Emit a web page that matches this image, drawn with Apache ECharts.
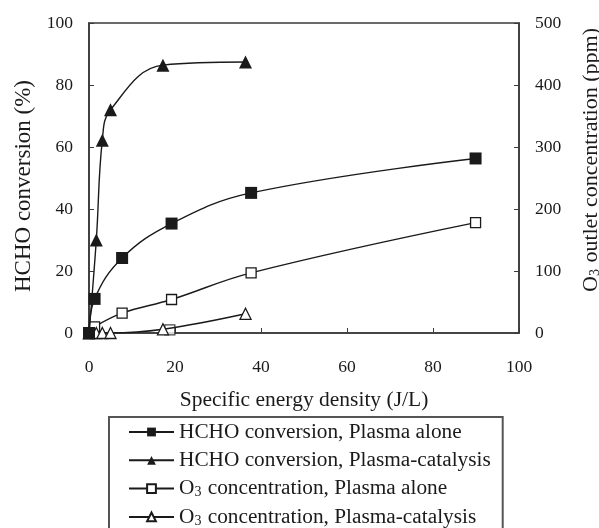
<!DOCTYPE html>
<html>
<head>
<meta charset="utf-8">
<script src="https://cdn.jsdelivr.net/npm/echarts@6/dist/echarts.min.js"></script>
<style>
  html, body { margin: 0; padding: 0; background: #fff; }
  #chart { width: 599px; height: 528px; }
</style>
</head>
<body>
<div id="chart"></div>
<script>
// Specific energy density (J/L) vs HCHO conversion (%) and O3 outlet (ppm)
const hchoPlasmaAlone = [[0, 0], [1.3, 11], [7.7, 24.2], [19.2, 35.3], [37.7, 45.2], [89.9, 56.3]];
const hchoPlasmaCatalysis = [[0, 0], [1.7, 30], [3.1, 62.2], [5.0, 72], [17.2, 86.4], [36.4, 87.4]];
const o3PlasmaAlone = [[0, 0], [1.3, 10], [7.7, 32], [19.2, 54], [37.7, 97], [89.9, 178]];
const o3PlasmaCatalysis = [[0, 0], [1.7, 0], [3.1, 0], [5.0, 0], [17.2, 6], [36.4, 31]];
const o3Extra = [[18.8, 5]];

const seriesNames = [
  'HCHO conversion, Plasma alone',
  'HCHO conversion, Plasma-catalysis',
  'O3 concentration, Plasma alone',
  'O3 concentration, Plasma-catalysis'
];
const xTicks = [0, 20, 40, 60, 80, 100];

const serif = 'Liberation Serif';
const ink = '#1a1a1a';
const frame = '#3a3a3a';

function richFor(size, lh) {
  return {
    a: { fontFamily: serif, fontSize: size, color: ink, lineHeight: lh },
    s: { fontFamily: serif, fontSize: Math.round(size * 0.65), color: ink, lineHeight: lh, padding: [Math.round(size * 0.38), 1, 0, 0] }
  };
}
const withSub = s => s.replace(/^O3(.*)$/, '{a|O}{s|3}{a|$1}').replace(/^([^{].*)$/, '{a|$1}');

const chart = echarts.init(document.getElementById('chart'), null, { renderer: 'canvas' });

function lineSeries(name, data, yIdx, symbol, filled, size) {
  return {
    name: name,
    type: 'line',
    yAxisIndex: yIdx,
    data: data,
    smooth: 0.4,
    symbol: symbol,
    symbolSize: size,
    showAllSymbol: true,
    lineStyle: { color: ink, width: 1.4 },
    itemStyle: { color: filled ? ink : '#fff', borderColor: ink, borderWidth: filled ? 0 : 1.3 },
    emphasis: { disabled: true },
    z: filled ? 3 : 2
  };
}

chart.setOption({
  animation: false,
  backgroundColor: '#fff',
  grid: {
    left: 89, right: 80, top: 23, bottom: 195,
    outerBoundsMode: 'none',
    show: true, borderColor: frame, borderWidth: 1.6
  },
  xAxis: {
    type: 'value', min: 0, max: 100, interval: 20,
    name: 'Specific energy density (J/L)',
    nameLocation: 'middle', nameGap: 56,
    nameTextStyle: { fontFamily: serif, fontSize: 21.5, color: ink },
    axisLine: { lineStyle: { color: frame, width: 1.6 } },
    axisTick: { inside: true, length: 5, lineStyle: { color: frame } },
    axisLabel: {
      fontFamily: serif, fontSize: 17.5, color: ink, margin: 25,
      formatter: v => xTicks.includes(v) ? String(v) : ''
    },
    splitLine: { show: false }
  },
  yAxis: [
    {
      type: 'value', min: 0, max: 100, interval: 20, position: 'left',
      name: 'HCHO conversion (%)',
      nameLocation: 'middle', nameGap: 52, nameRotate: 90,
      nameTextStyle: { fontFamily: serif, fontSize: 23, color: ink, padding: [0, 16, 0, 0] },
      axisLine: { show: true, lineStyle: { color: frame, width: 1.6 } },
      axisTick: { show: true, inside: true, length: 5, lineStyle: { color: frame } },
      axisLabel: { fontFamily: serif, fontSize: 17.5, color: ink, margin: 16 },
      splitLine: { show: false }
    },
    {
      type: 'value', min: 0, max: 500, interval: 100, position: 'right',
      name: '{a|O}{s|3}{a| outlet concentration (ppm)}',
      nameLocation: 'middle', nameGap: 61, nameRotate: 90,
      nameTextStyle: { rich: richFor(22, 22), padding: [0, 0, 0, 36] },
      axisLine: { show: true, lineStyle: { color: frame, width: 1.6 } },
      axisTick: { show: true, inside: true, length: 5, lineStyle: { color: frame } },
      axisLabel: { fontFamily: serif, fontSize: 17.5, color: ink, margin: 16 },
      splitLine: { show: false }
    }
  ],
  legend: {
    orient: 'vertical',
    left: 109, top: 417,
    height: 260,
    padding: [4, 12, 40, 19],
    itemWidth: 45, itemHeight: 11,
    itemGap: 6.3,
    borderColor: '#555', borderWidth: 2,
    data: seriesNames,
    formatter: withSub,
    textStyle: { fontFamily: serif, fontSize: 21.3, color: ink, lineHeight: 22, rich: richFor(21.3, 22) },
    selectedMode: false
  },
  series: [
    lineSeries(seriesNames[0], hchoPlasmaAlone, 0, 'rect', true, 12),
    lineSeries(seriesNames[1], hchoPlasmaCatalysis, 0, 'triangle', true, 13),
    lineSeries(seriesNames[2], o3PlasmaAlone, 1, 'rect', false, 10),
    lineSeries(seriesNames[3], o3PlasmaCatalysis, 1, 'triangle', false, 11),
    {
      type: 'scatter', yAxisIndex: 1, data: o3Extra,
      symbol: 'rect', symbolSize: 10,
      itemStyle: { color: '#fff', borderColor: ink, borderWidth: 1.3 },
      emphasis: { disabled: true }, z: 1
    }
  ]
});
</script>
</body>
</html>
